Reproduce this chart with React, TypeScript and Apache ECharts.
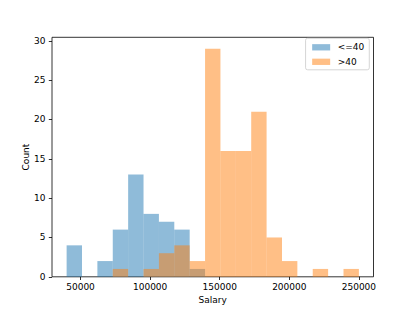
import React, { useEffect, useRef } from "react";
import * as echarts from "echarts";

// Histogram bin edges (salary) shared by both groups
const binEdges = [
  40000, 51053, 62105, 73158, 84211, 95263, 106316, 117368, 128421, 139474,
  150526, 161579, 172632, 183684, 194737, 205789, 216842, 227895, 238947, 250000,
];
// Counts per bin
const youngCounts = [4, 0, 2, 6, 13, 8, 7, 6, 1, 0, 0, 0, 0, 0, 0, 0, 0, 0, 0];
const olderCounts = [0, 0, 0, 1, 0, 1, 3, 4, 2, 29, 16, 16, 21, 5, 2, 0, 1, 0, 1];
const seriesNames = ["<=40", ">40"];
const xTicks = [50000, 100000, 150000, 200000, 250000];
const yTicks = [0, 5, 10, 15, 20, 25, 30];

const FONT = "DejaVu Sans";

function toBars(counts: number[]) {
  return counts.map((c, i) => [binEdges[i], binEdges[i + 1], c]);
}

function makeSeries(name: string, counts: number[], color: string) {
  return {
    type: "custom",
    name,
    itemStyle: { color },
    encode: { x: [0, 1], y: 2 },
    data: toBars(counts),
    renderItem: (_params: any, api: any) => {
      const p0 = api.coord([api.value(0), 0]);
      const p1 = api.coord([api.value(1), api.value(2)]);
      return {
        type: "rect",
        shape: { x: p0[0], y: p1[1], width: p1[0] - p0[0], height: p0[1] - p1[1] },
        style: { fill: color },
      };
    },
  };
}

export default function App() {
  const ref = useRef<HTMLDivElement>(null);
  useEffect(() => {
    if (!ref.current) return;
    const chart = echarts.init(ref.current, null, { renderer: "svg" });
    chart.setOption({
      animation: false,
      textStyle: { fontFamily: FONT },
      grid: {
        left: 52,
        right: 41.5,
        top: 37.3,
        bottom: 34.2,
        show: true,
        borderColor: "#000",
        borderWidth: 0.8,
        backgroundColor: "transparent",
      },
      legend: {
        orient: "vertical",
        right: 45.7,
        top: 38.3,
        data: seriesNames.map((n) => ({ name: n, icon: "rect" })),
        itemWidth: 18,
        itemHeight: 6.3,
        itemGap: 4.5,
        padding: [4, 5, 3, 6.6],
        backgroundColor: "rgba(255,255,255,0.8)",
        borderColor: "#cccccc",
        borderWidth: 0.8,
        borderRadius: 2,
        textStyle: { fontFamily: FONT, fontSize: 9, color: "#000", padding: [0, 0, 0, 2.6], lineHeight: 10 },
      },
      xAxis: {
        type: "value",
        min: 29500,
        max: 260500,
        name: "Salary",
        nameLocation: "middle",
        nameGap: 19,
        nameMoveOverlap: false,
        nameTextStyle: { fontFamily: FONT, fontSize: 9, color: "#000" },
        axisLine: { show: false },
        axisTick: { show: true, length: 3.2, customValues: xTicks, lineStyle: { color: "#000", width: 0.8 } },
        axisLabel: {
          customValues: xTicks,
          margin: 6,
          fontFamily: FONT,
          fontSize: 9,
          color: "#000",
          formatter: (v: number) => String(v),
        },
        splitLine: { show: false },
      },
      yAxis: {
        type: "value",
        min: 0,
        max: 30.45,
        name: "Count",
        nameLocation: "middle",
        nameGap: 21.5,
        nameMoveOverlap: false,
        nameTextStyle: { fontFamily: FONT, fontSize: 9, color: "#000" },
        axisLine: { show: false },
        axisTick: { show: true, length: 3.2, customValues: yTicks, lineStyle: { color: "#000", width: 0.8 } },
        axisLabel: {
          customValues: yTicks,
          margin: 6.5,
          fontFamily: FONT,
          fontSize: 9,
          color: "#000",
          formatter: (v: number) => String(v),
        },
        splitLine: { show: false },
      },
      series: [
        makeSeries(seriesNames[0], youngCounts, "rgba(31,119,180,0.5)"),
        makeSeries(seriesNames[1], olderCounts, "rgba(255,127,14,0.5)"),
      ],
    });
    return () => chart.dispose();
  }, []);
  return (
    <div
      ref={ref}
      style={{ position: "fixed", left: 0, top: 0, width: 415, height: 311, background: "#fff" }}
    />
  );
}
